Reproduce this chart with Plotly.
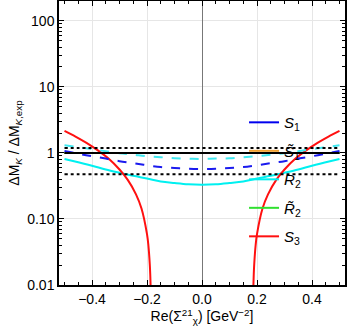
import plotly.graph_objects as go

# -- data --
x_vals = [-0.5, -0.45, -0.4, -0.35, -0.3, -0.25, -0.2, -0.15, -0.1, -0.05, 0.0,
          0.05, 0.1, 0.15, 0.2, 0.25, 0.3, 0.35, 0.4, 0.45, 0.5]

cyan_dashed = [1.31, 1.22, 1.14, 1.06, 0.99, 0.94, 0.89, 0.86, 0.83, 0.82, 0.81,
               0.82, 0.83, 0.86, 0.89, 0.94, 0.99, 1.06, 1.14, 1.22, 1.31]
blue_dashed = [1.07, 0.97, 0.89, 0.82, 0.75, 0.70, 0.65, 0.61, 0.59, 0.575, 0.57,
               0.575, 0.59, 0.61, 0.65, 0.70, 0.75, 0.82, 0.89, 0.97, 1.07]
cyan_solid = [0.81, 0.72, 0.64, 0.56, 0.50, 0.45, 0.41, 0.37, 0.35, 0.335, 0.33,
              0.335, 0.35, 0.37, 0.41, 0.45, 0.50, 0.56, 0.64, 0.72, 0.81]
s1_vals = [1.0] * len(x_vals)

red_left_x = [-0.5, -0.46, -0.42, -0.38, -0.34, -0.30, -0.27, -0.24, -0.22, -0.20,
              -0.195, -0.19, -0.188, -0.186]
red_left_y = [2.16, 1.77, 1.42, 1.10, 0.82, 0.56, 0.39, 0.236, 0.144, 0.059,
              0.040, 0.021, 0.0137, 0.0075]
red_right_x = [-v for v in red_left_x[::-1]]
red_right_y = red_left_y[::-1]

band_hi = 1.19
band_lo = 0.475

y_ticks = [0.01, 0.1, 1, 10, 100]
y_tick_text = ['0.01', '0.10', '1', '10', '100']
x_ticks = [-0.4, -0.2, 0.0, 0.2, 0.4]
x_tick_text = ['\u22120.4', '\u22120.2', '0.0', '0.2', '0.4']

# --- p l o t t i n g --- #
fig = go.Figure()

def curve(x, y, color, dash='solid', name=None, group=None, show=False, width=2):
    fig.add_trace(go.Scatter(x=x, y=y, mode='lines', name=name,
                             legendgroup=group, showlegend=show,
                             line=dict(color=color, width=width, dash=dash, shape='spline')))

curve(x_vals, s1_vals, '#0000ee', name='<i>S</i><sub>1</sub>', group='a', show=True)
curve(x_vals, s1_vals, '#f0a030', name='<i>S\u0303</i><sub>1</sub>', group='b', show=True)
curve(x_vals, cyan_solid, '#00f0f0', name='<i>R</i><sub>2</sub>', group='c', show=True)
curve(x_vals, s1_vals, '#30e030', name='<i>R\u0303</i><sub>2</sub>', group='d', show=True)
curve(red_left_x, red_left_y, '#ff1010', name='<i>S</i><sub>3</sub>', group='e', show=True)
curve(red_right_x, red_right_y, '#ff1010', group='e')
curve(x_vals, cyan_dashed, '#40e8f0', dash='dash')
curve(x_vals, blue_dashed, '#1a1aee', dash='dash')

# experimental band and central value
curve(x_vals, [band_hi] * len(x_vals), 'black', dash='dot')
curve(x_vals, [band_lo] * len(x_vals), 'black', dash='dot')
curve(x_vals, s1_vals, 'black')

axis_common = dict(showline=True, linecolor='black', linewidth=1.5, mirror='ticks',
                   ticks='inside', ticklen=5, tickcolor='black', automargin=False,
                   showgrid=True, gridcolor='#e6e6e6', gridwidth=1,
                   tickfont=dict(size=14, color='black'))

fig.update_xaxes(range=[-0.52, 0.52], tickvals=x_ticks, ticktext=x_tick_text,
                 zeroline=True, zerolinecolor='#777777', zerolinewidth=1,
                 minor=dict(dtick=0.05, ticks='inside', ticklen=3, tickcolor='black', showgrid=False),
                 title=dict(text='Re(\u03a3<sup>21</sup><sub>\u03c7</sub>) [GeV<sup>\u22122</sup>]',
                            font=dict(size=14, color='black'), standoff=4),
                 **axis_common)
fig.update_yaxes(type='log', range=[-2, 2.3], tickvals=y_ticks, ticktext=y_tick_text,
                 minor=dict(ticks='inside', ticklen=3, tickcolor='black', showgrid=False,
                            tickvals=[a * b for b in (0.01, 0.1, 1, 10, 100) for a in range(2, 10)]),
                 title=dict(text='\u0394M<sub><i>K</i></sub> / \u0394M<sub><i>K</i>,exp</sub>',
                            font=dict(size=14, color='black'), standoff=4),
                 **axis_common)

fig.update_layout(width=349, height=334, template='none',
                  margin=dict(l=59, r=4, t=1, b=49),
                  plot_bgcolor='white', paper_bgcolor='white',
                  font=dict(family='Liberation Sans, Arial, sans-serif', color='black'),
                  legend=dict(x=0.647, y=0.63, xanchor='left', yanchor='top',
                              bgcolor='rgba(0,0,0,0)', font=dict(size=15),
                              tracegroupgap=6, itemwidth=30))

# drop the page's default body margin so the figure sits at the window corner
fig.write_html('out.html', config={'displayModeBar': False},
               post_script="document.body.style.margin='0';")
